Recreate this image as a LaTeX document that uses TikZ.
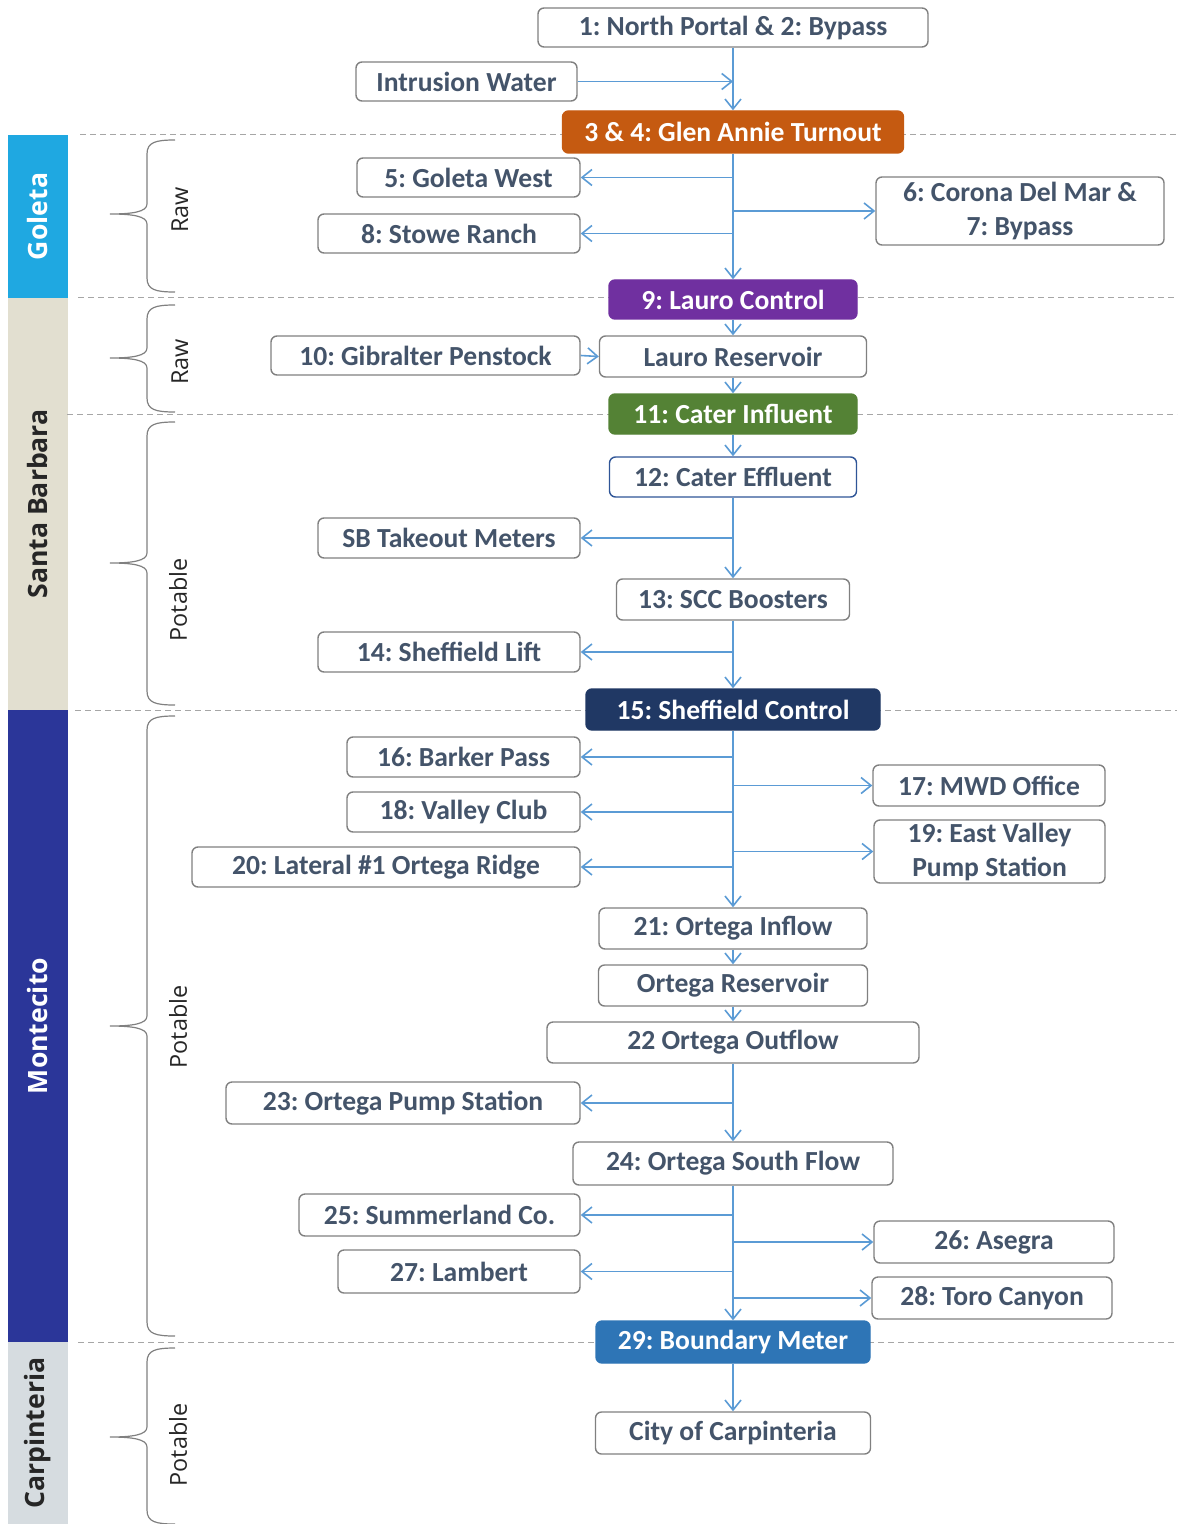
\documentclass[tikz,border=0pt]{standalone}
\usepackage{fontspec}
\setmainfont{Carlito}
\newfontfamily\zonefont{Open Sans}
\usetikzlibrary{arrows.meta}
\frenchspacing
\definecolor{boxtext}{RGB}{68,84,106}
\definecolor{boxline}{RGB}{128,128,128}
\definecolor{flowblue}{RGB}{91,155,213}
\definecolor{gatorange}{RGB}{197,90,17}
\definecolor{lcpurple}{RGB}{112,48,160}
\definecolor{cigreen}{RGB}{84,130,53}
\definecolor{scnavy}{RGB}{32,56,100}
\definecolor{bmblue}{RGB}{46,117,182}
\definecolor{ceblue}{RGB}{47,85,151}
\definecolor{goletac}{RGB}{31,168,225}
\definecolor{sbc}{RGB}{226,223,208}
\definecolor{montc}{RGB}{43,54,153}
\definecolor{carpc}{RGB}{214,220,224}
% curly bracket on the left: top, middle, bottom
\newcommand{\wbrace}[3]{%
  \draw[bracket] (175,#1) .. controls (156,#1) and (147,#1+2) .. (147,#1+14)
    -- (147,#2-10) .. controls (147,#2-2) and (132,#2) .. (110,#2)
    .. controls (132,#2) and (147,#2+2) .. (147,#2+10)
    -- (147,#3-14) .. controls (147,#3-2) and (156,#3) .. (175,#3);}
\tikzset{
  stn/.style={draw=boxline,line width=0.7pt,rounded corners=3pt,fill=white,text=boxtext,
              font=\bfseries\fontsize{13.8}{17}\selectfont,align=center,inner sep=0pt},
  ctrl/.style={stn,draw=#1,fill=#1,text=white},
  flow/.style={-{Straight Barb[length=5pt,width=8pt]},line width=0.8pt,flowblue},
  zone/.style={draw=gray!70,dash pattern=on 3pt off 2pt,line width=0.5pt},
  bar/.style={rotate=90,inner sep=0pt,minimum height=30pt,
              font=\zonefont\bfseries\fontsize{13.3}{15}\selectfont},
  kind/.style={rotate=90,inner sep=0pt,font=\zonefont\fontsize{11.7}{14}\selectfont,text=black!85},
  bracket/.style={draw=boxline,line width=0.6pt}
}

\begin{document}
\begin{tikzpicture}[x=0.5pt,y=-0.5pt]
  \useasboundingbox (0,0) rectangle (1177,1524);
  % zone bars
  \node[bar,fill=goletac,text=white,minimum width=81.5pt] (gol) at (38,216.5) {Goleta};
  \node[bar,fill=sbc,text=black!85,minimum width=206pt] (sba) at (38,504) {Santa Barbara};
  \node[bar,fill=montc,text=white,minimum width=316pt] (mon) at (38,1026) {Montecito};
  \node[bar,fill=carpc,text=black!85,minimum width=91pt] (car) at (38,1433) {Carpinteria};
  % zone borders
  \draw[zone] (80,135) -- (1177,135);
  \draw[zone] (78,298) -- (1177,298);
  \draw[zone] (67,414) -- (1177,414);
  \draw[zone] (75,710) -- (1177,710);
  \draw[zone] (78,1342) -- (1177,1342);
  % brackets and water type
  \wbrace{140}{214}{292}
  \wbrace{305}{358}{412}
  \wbrace{422}{563}{705}
  \wbrace{716}{1026}{1336}
  \wbrace{1348}{1437}{1524}
  \node[kind] (t1) at (180,210) {Raw};
  \node[kind] (t2) at (180,362) {Raw};
  \node[kind] (t3) at (178,600) {Potable};
  \node[kind] (t4) at (178,1027) {Potable};
  \node[kind] (t5) at (178,1445) {Potable};

  % stations
  \node[stn,minimum width=195pt,minimum height=19.5pt] (n1) at (733,27.5) {1: North Portal \& 2: Bypass};
  \node[stn,minimum width=110.5pt,minimum height=19.5pt] (iw) at (466.5,81.5) {Intrusion Water};
  \node[ctrl=gatorange,minimum width=170.5pt,minimum height=21pt] (n3) at (733,132) {3 \& 4: Glen Annie Turnout};
  \node[stn,minimum width=111.5pt,minimum height=19.5pt] (n5) at (468.5,177.5) {5: Goleta West};
  \node[stn,minimum width=131pt,minimum height=19.5pt] (n8) at (449,233.5) {8: Stowe Ranch};
  \node[stn,minimum width=144pt,minimum height=34pt] (n6) at (1020,211) {6: Corona Del Mar \&\\7: Bypass};
  \node[ctrl=lcpurple,minimum width=124pt,minimum height=19.5pt] (n9) at (733,299.5) {9: Lauro Control};
  \node[stn,minimum width=154.5pt,minimum height=19.5pt] (n10) at (425.5,355.5) {10: Gibralter Penstock};
  \node[stn,minimum width=133.5pt,minimum height=20.5pt] (lr) at (733,356.5) {Lauro Reservoir};
  \node[ctrl=cigreen,minimum width=124pt,minimum height=20pt] (n11) at (733,414) {11: Cater Influent};
  \node[stn,draw=ceblue,minimum width=123.5pt,minimum height=20pt] (n12) at (733,477) {12: Cater Effluent};
  \node[stn,minimum width=131pt,minimum height=20pt] (sb) at (449,538) {SB Takeout Meters};
  \node[stn,minimum width=116.5pt,minimum height=20.5pt] (n13) at (733,599.5) {13: SCC Boosters};
  \node[stn,minimum width=131pt,minimum height=20pt] (n14) at (449,652) {14: Sheffield Lift};
  \node[ctrl=scnavy,minimum width=147pt,minimum height=20.5pt] (n15) at (733,709.5) {15: Sheffield Control};
  \node[stn,minimum width=116.5pt,minimum height=20pt] (n16) at (463.5,757) {16: Barker Pass};
  \node[stn,minimum width=116pt,minimum height=20.5pt] (n17) at (989,785.5) {17: MWD Office};
  \node[stn,minimum width=116.5pt,minimum height=20pt] (n18) at (463.5,812) {18: Valley Club};
  \node[stn,minimum width=115.5pt,minimum height=31.5pt] (n19) at (989.5,851.5) {19: East Valley\\Pump Station};
  \node[stn,minimum width=194pt,minimum height=20pt] (n20) at (386,867) {20: Lateral \#1 Ortega Ridge};
  \node[stn,minimum width=134pt,minimum height=20.5pt] (n21) at (733,928.5) {21: Ortega Inflow};
  \node[stn,minimum width=134.5pt,minimum height=20.5pt] (or) at (733,985.5) {Ortega Reservoir};
  \node[stn,minimum width=186pt,minimum height=20.5pt] (n22) at (733,1042.5) {22 Ortega Outflow};
  \node[stn,minimum width=177pt,minimum height=21pt] (n23) at (403,1103) {23: Ortega Pump Station};
  \node[stn,minimum width=160pt,minimum height=21.5pt] (n24) at (733,1163.5) {24: Ortega South Flow};
  \node[stn,minimum width=140.5pt,minimum height=21pt] (n25) at (439.5,1215) {25: Summerland Co.};
  \node[stn,minimum width=120pt,minimum height=21pt] (n26) at (994,1242) {26: Asegra};
  \node[stn,minimum width=121pt,minimum height=21.5pt] (n27) at (459,1271.5) {27: Lambert};
  \node[stn,minimum width=120pt,minimum height=21pt] (n28) at (992,1298) {28: Toro Canyon};
  \node[ctrl=bmblue,minimum width=137pt,minimum height=21pt] (n29) at (733,1342) {29: Boundary Meter};
  \node[stn,minimum width=137.5pt,minimum height=21pt] (cc) at (733,1433) {City of Carpinteria};

  % flows
  \draw[flow] (n1.south) -- (n3.north);
  \draw[flow] (iw.east) -- (n3.north |- iw.east);
  \draw[flow] (n3.south) -- (n9.north);
  \draw[flow] (n3.south |- n5.east) -- (n5.east);
  \draw[flow] (n3.south |- n8.east) -- (n8.east);
  \draw[flow] (n3.south |- n6.west) -- (n6.west);
  \draw[flow] (n9.south) -- (lr.north);
  \draw[flow] (n10.east) -- (lr.west);
  \draw[flow] (lr.south) -- (n11.north);
  \draw[flow] (n11.south) -- (n12.north);
  \draw[flow] (n12.south) -- (n13.north);
  \draw[flow] (n12.south |- sb.east) -- (sb.east);
  \draw[flow] (n13.south) -- (n15.north);
  \draw[flow] (n13.south |- n14.east) -- (n14.east);
  \draw[flow] (n15.south) -- (n21.north);
  \draw[flow] (n15.south |- n16.east) -- (n16.east);
  \draw[flow] (n15.south |- n17.west) -- (n17.west);
  \draw[flow] (n15.south |- n18.east) -- (n18.east);
  \draw[flow] (n15.south |- n19.west) -- (n19.west);
  \draw[flow] (n15.south |- n20.east) -- (n20.east);
  \draw[flow] (n21.south) -- (or.north);
  \draw[flow] (or.south) -- (n22.north);
  \draw[flow] (n22.south) -- (n24.north);
  \draw[flow] (n22.south |- n23.east) -- (n23.east);
  \draw[flow] (n24.south) -- (n29.north);
  \draw[flow] (n24.south |- n25.east) -- (n25.east);
  \draw[flow] (n24.south |- n26.west) -- (n26.west);
  \draw[flow] (n24.south |- n27.east) -- (n27.east);
  \draw[flow] (n24.south |- n28.west) -- (n28.west);
  \draw[flow] (n29.south) -- (cc.north);
\end{tikzpicture}
\end{document}
